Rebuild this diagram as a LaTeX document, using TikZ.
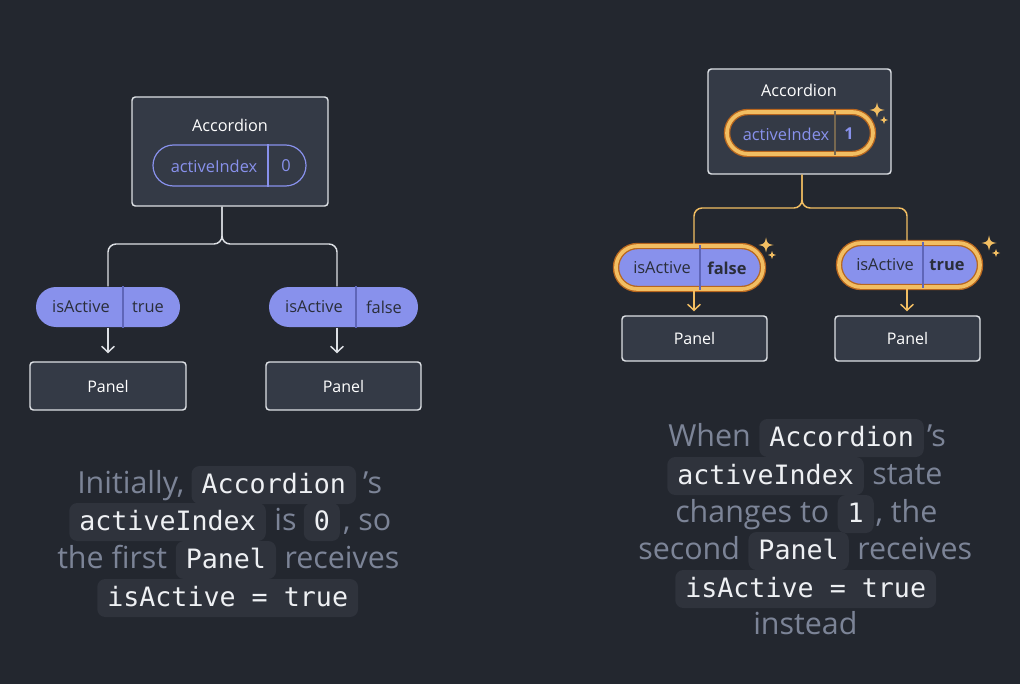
\documentclass[tikz,border=0pt]{standalone}
\usepackage{fontspec}
\setmainfont{Open Sans}
\setmonofont{DejaVu Sans Mono}
\usetikzlibrary{positioning,shapes.misc,arrows.meta}
\definecolor{bg}{HTML}{23272F}
\definecolor{boxfill}{HTML}{343A46}
\definecolor{boxline}{HTML}{DDE0E5}
\definecolor{purp}{HTML}{8891EC}
\definecolor{purpdark}{HTML}{5F66B8}
\definecolor{ink}{HTML}{2A2E3A}
\definecolor{gold}{HTML}{F2BE62}
\definecolor{amber}{HTML}{B8661E}
\definecolor{captext}{HTML}{7C8497}
\definecolor{chipfill}{HTML}{2F333C}
\definecolor{chiptext}{HTML}{EEF0F3}
\begin{document}
\begin{tikzpicture}[x=0.75pt,y=-0.75pt,
    comp/.style={draw=boxline,line width=1.1pt,fill=boxfill,rounded corners=2.5pt,inner sep=0pt,
      text=white,font=\fontsize{12pt}{14pt}\selectfont},
    title/.style={text=white,font=\fontsize{12.2pt}{14pt}\selectfont,inner sep=0pt},
    pill/.style={rounded rectangle,inner sep=0pt,line width=0.9pt},
    glow/.style={pill,draw=amber,double=gold,double distance=2.8pt,line width=1pt},
    tag/.style={font=\fontsize{12.3pt}{14pt}\selectfont,inner sep=0pt},
    wire/.style={draw=boxline,line width=1.1pt,rounded corners=6pt},
    feed/.style={draw=boxline,line width=1.1pt,-{Straight Barb[length=4.5pt,width=9.5pt]},shorten >=6pt},
    prose/.style={text=captext,font=\fontsize{22.8pt}{26pt}\selectfont,inner sep=0pt},
    chip/.style={fill=chipfill,text=chiptext,rounded corners=6pt,font=\ttfamily\fontsize{20pt}{24pt}\selectfont,
      inner xsep=7.5pt,inner ysep=4.25pt,text height=16pt,text depth=4pt},
    sparkle/.pic={\fill[gold] (0,-1) .. controls (0.18,-0.18) .. (1,0) .. controls (0.18,0.18) .. (0,1)
      .. controls (-0.18,0.18) .. (-1,0) .. controls (-0.18,-0.18) .. (0,-1) -- cycle;}]
  \fill[bg] (0,0) rectangle (1020,684);

  % left tree: first panel active
  \node[comp,minimum width=147pt,minimum height=81.75pt] (accL) at (230,151.5) {};
  \node[title] (accLt) at (230,125) {Accordion};
  \node[pill,draw=purp,fill=boxfill,minimum width=114.75pt,minimum height=30.75pt] (idxL) at (229.5,165.5) {};
  \draw[purp,line width=0.9pt] ([xshift=28.9pt]idxL.north) -- ([xshift=28.9pt]idxL.south);
  \node[tag,text=purp] (idxLk) at (214,166) {activeIndex};
  \node[tag,text=purp] (idxLv) at (286,166) {0};

  \node[pill,fill=purp,minimum width=108pt,minimum height=30pt] (actLa) at (108,307) {};
  \draw[purpdark,line width=0.9pt] ([xshift=11.25pt]actLa.north) -- ([xshift=11.25pt]actLa.south);
  \node[tag,text=ink] (actLak) at (81,307) {isActive};
  \node[tag,text=ink] (actLav) at (148,307) {true};
  \node[pill,fill=purp,minimum width=111.75pt,minimum height=30pt] (actLb) at (343.5,307) {};
  \draw[purpdark,line width=0.9pt] ([xshift=9.4pt]actLb.north) -- ([xshift=9.4pt]actLb.south);
  \node[tag,text=ink] (actLbk) at (314,307) {isActive};
  \node[tag,text=ink] (actLbv) at (384,307) {false};

  \node[comp,minimum width=117pt,minimum height=36pt] (pnLa) at (108,386) {Panel};
  \node[comp,minimum width=116.25pt,minimum height=36pt] (pnLb) at (343.5,386) {Panel};

  \coordinate (forkL) at (222,244);
  \coordinate (armLa) at (108,244);
  \coordinate (armLb) at (337,244);
  \draw[wire] (accL.south -| forkL) -- (forkL) -| (actLa.north -| armLa);
  \draw[wire] (accL.south -| forkL) -- (forkL) -| (actLb.north -| armLb);
  \draw[feed] (actLa.south -| armLa) -- (pnLa.north -| armLa);
  \draw[feed] (actLb.south -| armLb) -- (pnLb.north -| armLb);

  % right tree: second panel active
  \node[comp,minimum width=137.25pt,minimum height=78.75pt] (accR) at (799.5,121.5) {};
  \node[title] (accRt) at (799,90) {Accordion};
  \node[glow,fill=boxfill,minimum width=109.5pt,minimum height=31.5pt] (idxR) at (800,133) {};
  \draw[gold!35!boxfill,line width=0.9pt] ([xshift=26.25pt]idxR.north) -- ([xshift=26.25pt]idxR.south);
  \node[tag,text=purp] (idxRk) at (786,134) {activeIndex};
  \node[tag,text=purp,font=\bfseries\fontsize{12.3pt}{14pt}\selectfont] (idxRv) at (849,134) {1};

  \node[glow,fill=purp,minimum width=110.25pt,minimum height=32.25pt] (actRa) at (689.5,267.5) {};
  \draw[purpdark,line width=0.9pt] ([xshift=7.9pt]actRa.north) -- ([xshift=7.9pt]actRa.south);
  \node[tag,text=ink] (actRak) at (662,268) {isActive};
  \node[tag,text=ink,font=\bfseries\fontsize{12.3pt}{14pt}\selectfont] (actRav) at (727,268) {false};
  \node[glow,fill=purp,minimum width=105.75pt,minimum height=33pt] (actRb) at (909.5,265) {};
  \draw[purpdark,line width=0.9pt] ([xshift=10.1pt]actRb.north) -- ([xshift=10.1pt]actRb.south);
  \node[tag,text=ink] (actRbk) at (885,265) {isActive};
  \node[tag,text=ink,font=\bfseries\fontsize{12.3pt}{14pt}\selectfont] (actRbv) at (947,265) {true};

  \node[comp,minimum width=108.75pt,minimum height=33.75pt] (pnRa) at (694.5,338.5) {Panel};
  \node[comp,minimum width=108.75pt,minimum height=33.75pt] (pnRb) at (907.5,338.5) {Panel};

  \coordinate (forkR) at (802,208);
  \coordinate (armRa) at (694,208);
  \coordinate (armRb) at (907,208);
  \draw[wire,draw=gold] (accR.south -| forkR) -- (forkR) -| (actRa.north -| armRa);
  \draw[wire,draw=gold] (accR.south -| forkR) -- (forkR) -| (actRb.north -| armRb);
  \draw[feed,draw=gold,shorten >=3pt] (actRa.south -| armRa) -- (pnRa.north -| armRa);
  \draw[feed,draw=gold,shorten >=3pt] (actRb.south -| armRb) -- (pnRb.north -| armRb);

  \pic[scale=7.5] at (877,110) {sparkle};
  \pic[scale=4] at (884,120) {sparkle};
  \pic[scale=7.5] at (766,245) {sparkle};
  \pic[scale=4] at (772,255) {sparkle};
  \pic[scale=7.5] at (989,243) {sparkle};
  \pic[scale=4] at (996,253) {sparkle};

  % left caption
  \node[prose,anchor=base west] (capL1a) at (77,493) {Initially,};
  \node[chip,base right=5pt of capL1a] (capL1b) {Accordion};
  \node[prose,base right=5pt of capL1b] (capL1c) {’s};
  \node[chip,anchor=base west] (capL2a) at (69,530) {activeIndex};
  \node[prose,base right=6pt of capL2a] (capL2b) {is};
  \node[chip,base right=5pt of capL2b] (capL2c) {0};
  \node[prose,base right=2pt of capL2c] (capL2d) {, so};
  \node[prose,anchor=base west] (capL3a) at (57,568) {the first};
  \node[chip,base right=6pt of capL3a] (capL3b) {Panel};
  \node[prose,base right=6pt of capL3b] (capL3c) {receives};
  \node[chip,anchor=base west] (capL4a) at (97,606) {isActive = true};

  % right caption
  \node[prose,anchor=base west] (capR1a) at (668,446) {When};
  \node[chip,base right=6pt of capR1a] (capR1b) {Accordion};
  \node[prose,base right=2pt of capR1b] (capR1c) {’s};
  \node[chip,anchor=base west] (capR2a) at (667,484) {activeIndex};
  \node[prose,base right=6pt of capR2a] (capR2b) {state};
  \node[prose,anchor=base west] (capR3a) at (675,522) {changes to};
  \node[chip,base right=6pt of capR3a] (capR3b) {1};
  \node[prose,base right=1pt of capR3b] (capR3c) {, the};
  \node[prose,anchor=base west] (capR4a) at (638,559) {second};
  \node[chip,base right=6pt of capR4a] (capR4b) {Panel};
  \node[prose,base right=6pt of capR4b] (capR4c) {receives};
  \node[chip,anchor=base west] (capR5a) at (675,597) {isActive = true};
  \node[prose,anchor=base west] (capR6a) at (753,634) {instead};
\end{tikzpicture}
\end{document}
